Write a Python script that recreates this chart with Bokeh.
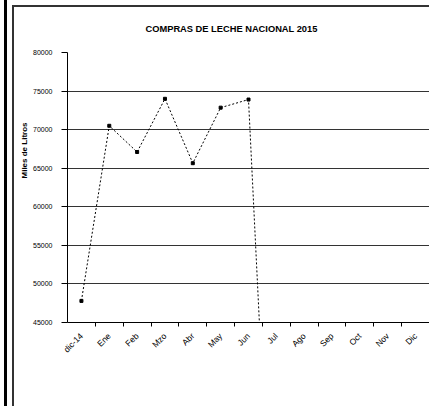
import numpy as np
from bokeh.plotting import figure
from bokeh.models import FixedTicker, Range1d, Title, InlineStyleSheet
from bokeh.embed import file_html
from bokeh.resources import INLINE

months = ["dic-14", "Ene", "Feb", "Mzo", "Abr", "May", "Jun",
          "Jul", "Ago", "Sep", "Oct", "Nov", "Dic"]
compras = [47800, 70500, 67100, 74000, 65650, 72850, 73900,
           0, 0, 0, 0, 0, 0]
y_ticks = [45000, 50000, 55000, 60000, 65000, 70000, 75000, 80000]
title_text = "COMPRAS DE LECHE NACIONAL 2015"
y_label = "Miles de Litros"

FONT = "Liberation Sans"
xs = list(range(len(months)))

frame_css = InlineStyleSheet(css="""
:host::before { content: ""; position: absolute; left: 4px; top: 0px;
  width: 3px; height: 100%; background: #000; z-index: 10; pointer-events: none; }
:host::after { content: ""; position: absolute; left: 12px; top: 5px; right: 0px;
  bottom: 0px; border-left: 2px solid #333; border-top: 2px solid #333;
  z-index: 10; pointer-events: none; }
""")

p = figure(width=429, height=406, output_backend="svg", toolbar_location=None,
           x_range=Range1d(-0.5, len(months) - 0.5),
           y_range=Range1d(45000, 80000),
           min_border_left=67, min_border_right=0,
           min_border_top=52, min_border_bottom=84,
           stylesheets=[frame_css])
p.outline_line_color = None
p.background_fill_color = "white"
p.border_fill_color = "white"

p.title.text = title_text
p.title.text_font = FONT
p.title.text_font_size = "9.3px"
p.title.text_font_style = "bold"
p.title.text_color = "black"
p.title.align = "left"
p.title.offset = 78
p.title.standoff = 38

# grid
p.xgrid.grid_line_color = None
p.ygrid.ticker = FixedTicker(ticks=y_ticks)
p.ygrid.grid_line_color = "#333333"
p.ygrid.grid_line_width = 1

# y axis
p.yaxis.ticker = FixedTicker(ticks=y_ticks)
p.yaxis.axis_line_color = "black"
p.yaxis.major_tick_out = 6
p.yaxis.major_tick_in = 0
p.yaxis.minor_tick_line_color = None
p.yaxis.major_label_text_font = FONT
p.yaxis.major_label_text_font_size = "7px"
p.yaxis.major_label_text_color = "black"
p.yaxis.major_label_standoff = 9

p.add_layout(Title(text=y_label, align="left", offset=144, standoff=4,
                   text_font=FONT, text_font_size="8px", text_font_style="bold",
                   text_color="black"), "left")

# x axis
p.xaxis.ticker = FixedTicker(ticks=xs, minor_ticks=[i + 0.5 for i in xs])
p.xaxis.major_label_overrides = {i: m for i, m in enumerate(months)}
p.xaxis.major_tick_out = 0
p.xaxis.major_tick_in = 0
p.xaxis.minor_tick_out = 4
p.xaxis.minor_tick_in = 0
p.xaxis.minor_tick_line_color = "black"
p.xaxis.axis_line_color = "black"
p.xaxis.major_label_orientation = np.pi / 4
p.xaxis.major_label_text_font = FONT
p.xaxis.major_label_text_font_size = "8.5px"
p.xaxis.major_label_text_color = "black"
p.xaxis.major_label_standoff = 8

# series
p.line(xs, compras, line_color="black", line_width=1, line_dash="2 2")
p.scatter(xs[:7], compras[:7], marker="square", size=3, color="black")

open("out.html", "w").write(file_html(p, INLINE))
